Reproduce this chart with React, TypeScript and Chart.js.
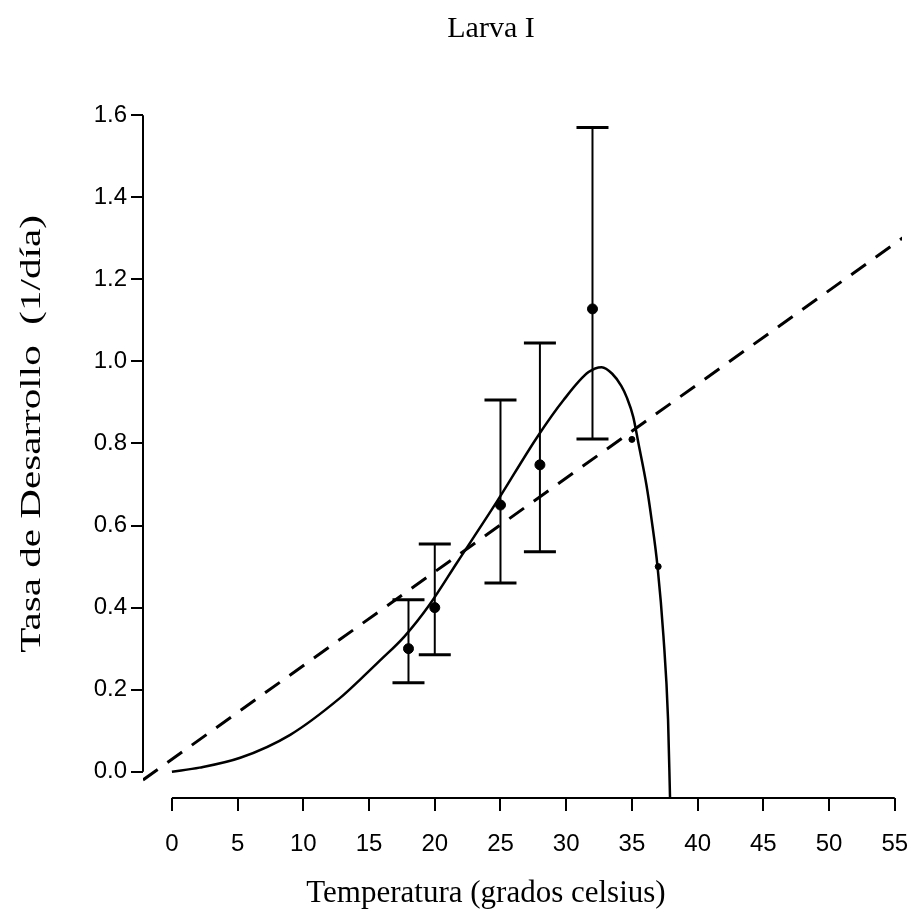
import React, { useEffect, useRef } from 'react';
import { Chart, registerables } from 'chart.js';

Chart.register(...registerables);

// Fitted non-linear development curve
const curveTemp = [0, 2.1, 5.2, 9.0, 12.8, 14.3, 15.8, 17.7, 19.6, 21.7, 24.7, 27.8, 29.8, 31.7, 32.7, 33.5, 34.2, 34.6, 35.1, 35.5, 36.1, 36.5, 36.95, 37.4, 37.75, 37.9];
const curveRate = [0.0, 0.01, 0.034, 0.09, 0.18, 0.224, 0.27, 0.33, 0.407, 0.51, 0.657, 0.816, 0.906, 0.974, 0.986, 0.97, 0.94, 0.913, 0.865, 0.80, 0.70, 0.614, 0.50, 0.33, 0.127, -0.064];

// Linear model (dashed)
const lineTemp = [-2.2, 56];
const lineRate = [-0.02, 1.31];

// Observed means with error bars
const obsTemp = [18, 20, 25, 28, 32];
const obsRate = [0.30, 0.40, 0.65, 0.748, 1.128];
const obsLow = [0.217, 0.285, 0.46, 0.536, 0.811];
const obsHigh = [0.419, 0.555, 0.906, 1.045, 1.57];

// Extra small points
const extraTemp = [35, 37];
const extraRate = [0.81, 0.50];

const xTicks = [0, 5, 10, 15, 20, 25, 30, 35, 40, 45, 50, 55];
const yTicks = [0.0, 0.2, 0.4, 0.6, 0.8, 1.0, 1.2, 1.4, 1.6];

const titleText = 'Larva I';
const xTitle = 'Temperatura (grados celsius)';
const yTitle = 'Tasa de Desarrollo  (1/día)';

const SERIF = "'Liberation Serif', 'Times New Roman', serif";
const SANS = "'Liberation Sans', Arial, sans-serif";

const decorPlugin = {
  id: 'decor',
  beforeDatasetsDraw(chart: any) {
    const { ctx, scales } = chart;
    const xs = scales.x;
    const ys = scales.y;
    ctx.save();
    ctx.strokeStyle = '#000';
    for (let i = 0; i < obsTemp.length; i++) {
      const px = xs.getPixelForValue(obsTemp[i]);
      const pLo = ys.getPixelForValue(obsLow[i]);
      const pHi = ys.getPixelForValue(obsHigh[i]);
      ctx.lineWidth = 2;
      ctx.beginPath();
      ctx.moveTo(px, pLo);
      ctx.lineTo(px, pHi);
      ctx.stroke();
      ctx.lineWidth = 3;
      ctx.beginPath();
      ctx.moveTo(px - 16, pLo);
      ctx.lineTo(px + 16, pLo);
      ctx.moveTo(px - 16, pHi);
      ctx.lineTo(px + 16, pHi);
      ctx.stroke();
    }
    ctx.restore();
  },
  afterDraw(chart: any) {
    const { ctx, scales, chartArea } = chart;
    const xs = scales.x;
    const ys = scales.y;
    ctx.save();
    ctx.strokeStyle = '#000';
    ctx.lineWidth = 2;
    // y axis line from first to last tick
    ctx.beginPath();
    ctx.moveTo(chartArea.left, ys.getPixelForValue(yTicks[0]));
    ctx.lineTo(chartArea.left, ys.getPixelForValue(yTicks[yTicks.length - 1]));
    ctx.stroke();
    // x axis line
    ctx.beginPath();
    ctx.moveTo(xs.getPixelForValue(xTicks[0]), chartArea.bottom);
    ctx.lineTo(xs.getPixelForValue(xTicks[xTicks.length - 1]), chartArea.bottom);
    ctx.stroke();

    ctx.fillStyle = '#000';
    ctx.textAlign = 'center';
    ctx.textBaseline = 'alphabetic';
    ctx.font = `30px ${SERIF}`;
    ctx.fillText(titleText, 491, 37);
    ctx.font = `31px ${SERIF}`;
    ctx.fillText(xTitle, 486, 902);

    ctx.font = `30px ${SERIF}`;
    ctx.translate(40, 434);
    ctx.rotate(-Math.PI / 2);
    ctx.scale(1.37, 1);
    ctx.fillText(yTitle, 0, 0);
    ctx.restore();
  },
};

export default function App() {
  const ref = useRef<HTMLCanvasElement | null>(null);
  useEffect(() => {
    document.body.style.margin = '0';
    const canvas = ref.current;
    if (!canvas) return;
    const chart = new Chart(canvas, {
      type: 'scatter',
      data: {
        datasets: [
          {
            type: 'line',
            data: curveTemp.map((t, i) => ({ x: t, y: curveRate[i] })),
            borderColor: '#000',
            borderWidth: 2.5,
            pointRadius: 0,
            fill: false,
            cubicInterpolationMode: 'monotone',
          } as any,
          {
            type: 'line',
            data: lineTemp.map((t, i) => ({ x: t, y: lineRate[i] })),
            borderColor: '#000',
            borderWidth: 3,
            borderDash: [18, 12],
            pointRadius: 0,
            fill: false,
          } as any,
          {
            data: obsTemp.map((t, i) => ({ x: t, y: obsRate[i] })),
            backgroundColor: '#000',
            borderColor: '#000',
            pointRadius: 5,
          },
          {
            data: extraTemp.map((t, i) => ({ x: t, y: extraRate[i] })),
            backgroundColor: '#000',
            borderColor: '#000',
            pointRadius: 3,
          },
        ],
      },
      options: {
        animation: false,
        responsive: false,
        layout: { padding: { top: 89, right: 0, left: 0, bottom: 0 } },
        plugins: { legend: { display: false }, tooltip: { enabled: false }, title: { display: false } },
        scales: {
          x: {
            type: 'linear',
            min: -2.2,
            max: 55.55,
            border: { display: false },
            grid: { display: true, drawOnChartArea: false, drawTicks: true, tickLength: 13, color: '#000', lineWidth: 2 },
            ticks: { color: '#000', font: { family: SANS, size: 24 }, padding: 19, autoSkip: false, maxRotation: 0 },
            afterBuildTicks: (s: any) => { s.ticks = xTicks.map((v) => ({ value: v })); },
            afterFit: (s: any) => { s.height = 125; s.paddingLeft = 0; s.paddingRight = 0; },
          },
          y: {
            type: 'linear',
            min: -0.064,
            max: 1.664,
            border: { display: false },
            grid: { display: true, drawOnChartArea: false, drawTicks: true, tickLength: 12, color: '#000', lineWidth: 2 },
            ticks: { color: '#000', font: { family: SANS, size: 24 }, padding: 4, autoSkip: false, callback: (v: any) => Number(v).toFixed(1) },
            afterBuildTicks: (s: any) => { s.ticks = yTicks.map((v) => ({ value: v })); },
            afterFit: (s: any) => { s.width = 143; s.paddingTop = 0; s.paddingBottom = 0; },
          },
        },
      },
      plugins: [decorPlugin],
    });
    return () => chart.destroy();
  }, []);
  return (
    <div style={{ width: 908, height: 923, background: '#fff' }}>
      <canvas ref={ref} width={908} height={923} style={{ display: 'block' }} />
    </div>
  );
}
